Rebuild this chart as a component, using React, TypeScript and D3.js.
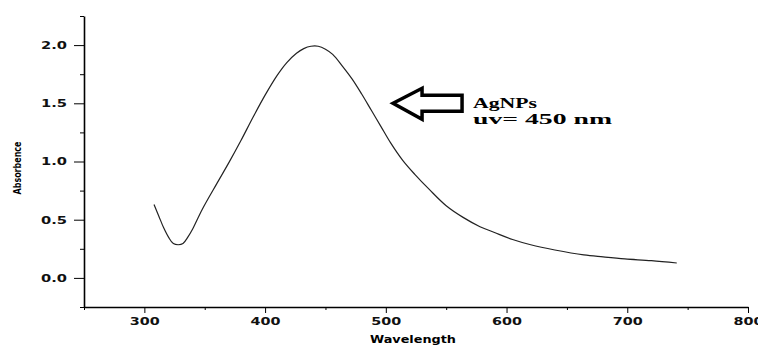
import React, { useEffect, useRef } from 'react';
import * as d3 from 'd3';

// wavelength (nm) and absorbance
const wavelength = [308, 312, 316, 320, 324, 328, 332, 336, 340, 348, 360, 370, 380, 390, 400, 410, 418, 426, 432, 438, 444, 450, 456, 464, 472, 480, 488, 496, 504, 514, 524, 536, 550, 564, 578, 590, 605, 620, 640, 664, 680, 698, 720, 741];
const absorbance = [0.63, 0.53, 0.43, 0.35, 0.295, 0.285, 0.295, 0.35, 0.42, 0.59, 0.81, 0.99, 1.18, 1.38, 1.57, 1.74, 1.85, 1.93, 1.97, 1.99, 1.99, 1.965, 1.92, 1.82, 1.71, 1.58, 1.44, 1.3, 1.16, 1.01, 0.89, 0.76, 0.62, 0.52, 0.44, 0.39, 0.33, 0.285, 0.24, 0.197, 0.18, 0.163, 0.148, 0.128];

const xMajor = [300, 400, 500, 600, 700, 800];
const xMinor = [250, 350, 450, 550, 650, 750];
const yMajor = [0, 0.5, 1, 1.5, 2];
const yMinor = [-0.25, 0.25, 0.75, 1.25, 1.75, 2.25];

const annotationLines = ['AgNPs', 'uv= 450 nm'];
const arrowTip = { wl: 506, abs: 1.5 };

const W = 758;
const H = 345;

const App = () => {
  const ref = useRef<SVGSVGElement>(null);

  useEffect(() => {
    const svg = d3.select(ref.current);
    svg.selectAll('*').remove();

    const x = d3.scaleLinear().domain([250, 800]).range([84, 748]);
    const y = d3.scaleLinear().domain([-0.25, 2.25]).range([307, 16]);

    svg.append('rect').attr('width', W).attr('height', H).attr('fill', '#fff');

    const font = "'DejaVu Sans', sans-serif";

    // x axis
    const xAx = svg.append('g').attr('transform', `translate(0,${y(-0.25)})`);
    xAx.call(d3.axisBottom(x).tickValues(xMinor).tickSize(3).tickFormat(() => ''));
    xAx.select('.domain').remove();
    const xAx2 = svg.append('g').attr('transform', `translate(0,${y(-0.25)})`);
    xAx2.call(d3.axisBottom(x).tickValues(xMajor).tickSize(6).tickSizeOuter(0).tickPadding(5).tickFormat(d3.format('d')));
    xAx2.select('.domain').attr('stroke-width', 1.6);
    xAx2.selectAll('text')
      .attr('font-family', font).attr('font-weight', 'bold').attr('font-size', 10.5)
      .attr('textLength', 30).attr('lengthAdjust', 'spacingAndGlyphs').attr('fill', '#111');

    // y axis
    const yAx = svg.append('g').attr('transform', `translate(${x(250)},0)`);
    yAx.call(d3.axisLeft(y).tickValues(yMinor).tickSize(4).tickFormat(() => ''));
    yAx.select('.domain').remove();
    const yAx2 = svg.append('g').attr('transform', `translate(${x(250)},0)`);
    yAx2.call(d3.axisLeft(y).tickValues(yMajor).tickSize(10).tickSizeOuter(0).tickPadding(7).tickFormat(d3.format('.1f')));
    yAx2.select('.domain').attr('stroke-width', 1.6);
    yAx2.selectAll('text')
      .attr('font-family', font).attr('font-weight', 'bold').attr('font-size', 10.5)
      .attr('textLength', 26).attr('lengthAdjust', 'spacingAndGlyphs').attr('fill', '#111');

    // axis titles
    svg.append('text')
      .attr('transform', 'translate(21,168) rotate(-90)')
      .attr('text-anchor', 'middle')
      .attr('font-family', font).attr('font-weight', 'bold').attr('font-size', 10.5)
      .attr('textLength', 53).attr('lengthAdjust', 'spacingAndGlyphs')
      .text('Absorbence');
    svg.append('text')
      .attr('x', 413).attr('y', 343)
      .attr('text-anchor', 'middle')
      .attr('font-family', font).attr('font-weight', 'bold').attr('font-size', 11)
      .attr('textLength', 86).attr('lengthAdjust', 'spacingAndGlyphs')
      .text('Wavelength');

    // spectrum
    const pts = wavelength.map((w, i) => [w, absorbance[i]] as [number, number]);
    const line = d3.line<[number, number]>()
      .x((d) => x(d[0]))
      .y((d) => y(d[1]))
      .curve(d3.curveCatmullRom.alpha(0.5));
    svg.append('path')
      .datum(pts)
      .attr('d', line)
      .attr('fill', 'none')
      .attr('stroke', '#222')
      .attr('stroke-width', 1.2);

    // hollow arrow pointing left
    const tx = x(arrowTip.wl);
    const ty = y(arrowTip.abs);
    const arrow = d3.path();
    arrow.moveTo(tx, ty);
    arrow.lineTo(tx + 29, ty - 15);
    arrow.lineTo(tx + 29, ty - 8);
    arrow.lineTo(tx + 69, ty - 8);
    arrow.lineTo(tx + 69, ty + 8);
    arrow.lineTo(tx + 29, ty + 8);
    arrow.lineTo(tx + 29, ty + 16);
    arrow.closePath();
    svg.append('path')
      .attr('d', arrow.toString())
      .attr('fill', '#fff')
      .attr('stroke', '#000')
      .attr('stroke-width', 3.5)
      .attr('stroke-linejoin', 'miter');

    const serif = "'Liberation Serif', 'Times New Roman', serif";
    svg.append('text')
      .attr('x', 473).attr('y', 107.5)
      .attr('font-family', serif).attr('font-weight', 'bold').attr('font-size', 15)
      .attr('textLength', 64).attr('lengthAdjust', 'spacingAndGlyphs')
      .text(annotationLines[0]);
    svg.append('text')
      .attr('x', 473).attr('y', 124)
      .attr('font-family', serif).attr('font-weight', 'bold').attr('font-size', 15)
      .attr('textLength', 139).attr('lengthAdjust', 'spacingAndGlyphs')
      .text(annotationLines[1]);
  }, []);

  return (
    <svg
      ref={ref}
      width={W}
      height={H}
      style={{ position: 'absolute', left: 0, top: 0 }}
    />
  );
};

export default App;
